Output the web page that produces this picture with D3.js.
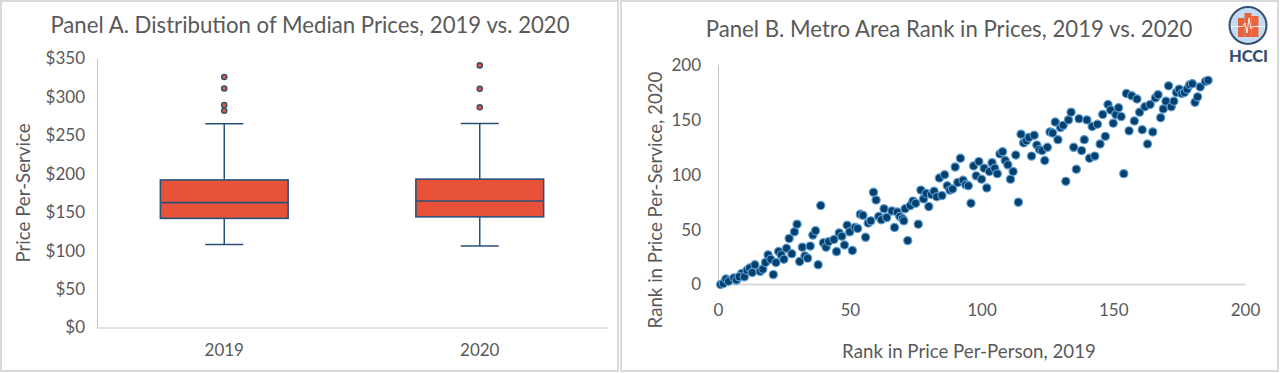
<!DOCTYPE html>
<html>
<head>
<meta charset="utf-8">
<script src="https://cdn.jsdelivr.net/npm/d3@7"></script>
<style>
  html, body { margin: 0; padding: 0; background: #fff; }
  svg { display: block; }
  text { font-family: Lato, "Noto Sans", sans-serif; fill: #595959; }
</style>
</head>
<body>
<div id="chart"></div>
<script>
const width = 1280;
const height = 373;

// Panel A
const years = ['2019', '2020'];
const whiskerLow = [108, 106];
const quartile1 = [142, 144];
const medians = [162.5, 164.5];
const quartile3 = [192, 193];
const whiskerHigh = [265, 265.5];
const outliers = [[326, 311, 289.5, 282], [341, 310.5, 286.5]];
const priceTicks = [0, 50, 100, 150, 200, 250, 300, 350];

// Panel B
const rank2019 = [1, 2, 3, 4, 6, 7, 9, 8, 10, 11, 12, 13, 14, 16, 17, 18, 19, 20, 21, 22, 23, 24, 25, 26, 27, 28, 29, 30, 31, 32, 33, 34, 35, 36, 37, 38, 39, 40, 41, 42, 44, 45, 46,
  47, 48, 49, 50, 51, 52, 53, 54, 55, 56, 57, 58, 59, 60, 61, 62, 63, 64, 66, 67, 68, 69, 70, 70.5, 71, 72, 73, 74, 75, 76, 77, 78, 79, 80, 81, 82, 83, 84, 85, 86, 87, 88, 89, 90, 91, 92,
  93, 94, 95, 96, 97, 98, 99, 100, 101, 102, 103, 104, 105, 106, 107, 108, 109, 110, 111, 112, 113, 114, 115, 116, 117, 118, 119, 120, 121, 122, 123, 124, 125, 126, 127, 128, 129, 130, 131, 132, 133, 134, 135, 136, 137,
  138, 139, 140, 141, 142, 143, 144, 145, 146, 147, 148, 149, 150, 151, 152, 153, 154, 155, 156, 157, 158, 159, 160, 161, 162, 163, 164, 165, 166, 167, 168, 169, 170, 171, 172, 173, 174, 175, 176, 177, 178, 179, 180, 181, 182, 183, 185, 186];
const rank2020 = [0, 1, 5, 3, 6, 4, 10, 7, 7, 13, 15, 11, 18, 12, 14, 20, 27, 23, 9, 20, 30, 27, 23, 33, 42, 28, 48, 55, 21, 34, 26, 24, 35, 45, 49, 18, 72, 38, 34, 39, 41, 30, 47,
  44, 36, 54, 48, 31, 52, 51, 64, 63, 43, 56, 58, 84, 77, 62, 59, 69, 61, 67, 52, 66, 62, 60, 58, 69, 40, 72, 76, 74, 55, 86, 78, 83, 71, 82, 85, 80, 97, 81, 100, 90, 86, 87, 107, 93, 115,
  95, 91, 90, 74, 108, 99, 112, 96, 106, 88, 103, 111, 106, 101, 119, 121, 113, 109, 96, 103, 118, 75, 137, 129, 131, 134, 117, 136, 127, 123, 122, 113, 125, 139, 138, 148, 132, 143, 145, 94, 150, 157, 125, 105, 151,
  122, 132, 150, 115, 144, 117, 146, 128, 155, 135, 164, 159, 147, 155, 161, 153, 101, 174, 140, 172, 149, 169, 157, 141, 162, 128, 164, 139, 170, 173, 152, 160, 167, 181, 162, 167, 175, 178, 174, 175, 178, 182, 183, 166, 171, 180, 185, 186];
const rankTicks = [0, 50, 100, 150, 200];

const svg = d3.select('#chart').append('svg')
  .attr('width', width)
  .attr('height', height);

// panel frames
svg.append('rect').attr('x', 1).attr('y', 1).attr('width', 617).attr('height', 370)
  .attr('fill', '#fff').attr('stroke', '#d9d9d9').attr('stroke-width', 2);
svg.append('rect').attr('x', 621).attr('y', 1).attr('width', 657).attr('height', 370)
  .attr('fill', '#fff').attr('stroke', '#d9d9d9').attr('stroke-width', 2);

function styleAxis(g, size) {
  g.selectAll('.tick line').remove();
  g.selectAll('.tick text').style('font-size', size + 'px').attr('fill', '#595959');
  g.select('.domain').attr('stroke', '#c4c4c4');
}

function drawPanelA() {
  const y = d3.scaleLinear().domain([0, 350]).range([327.5, 58.5]);
  const x = d3.scaleBand().domain(years).range([96.5, 607.5]).paddingInner(0.5).paddingOuter(0.25);

  const xAxis = svg.append('g').attr('transform', 'translate(0,327.5)')
    .call(d3.axisBottom(x).tickSize(0).tickPadding(16));
  styleAxis(xAxis, 17);

  const yAxis = svg.append('g').attr('transform', 'translate(97,0)')
    .call(d3.axisLeft(y).tickValues(priceTicks).tickFormat((d) => '$' + d).tickSize(0).tickPadding(12));
  styleAxis(yAxis, 17);

  const line = '#2a5279';
  years.forEach((year, i) => {
    const cx = x(year) + x.bandwidth() / 2;
    const box = svg.append('g');
    box.append('line').attr('x1', cx).attr('x2', cx)
      .attr('y1', y(whiskerLow[i])).attr('y2', y(whiskerHigh[i]))
      .attr('stroke', line).attr('stroke-width', 1.5);
    [whiskerLow[i], whiskerHigh[i]].forEach((v) => {
      box.append('line').attr('x1', cx - 19).attr('x2', cx + 19)
        .attr('y1', y(v)).attr('y2', y(v))
        .attr('stroke', line).attr('stroke-width', 1.5);
    });
    box.append('rect')
      .attr('x', x(year)).attr('width', x.bandwidth())
      .attr('y', y(quartile3[i])).attr('height', y(quartile1[i]) - y(quartile3[i]))
      .attr('fill', '#e85238').attr('stroke', line).attr('stroke-width', 1.6);
    box.append('line').attr('x1', x(year)).attr('x2', x(year) + x.bandwidth())
      .attr('y1', y(medians[i])).attr('y2', y(medians[i]))
      .attr('stroke', line).attr('stroke-width', 1.6);
    box.selectAll('circle').data(outliers[i]).join('circle')
      .attr('cx', cx).attr('cy', (d) => y(d)).attr('r', 2.6)
      .attr('fill', '#e85238').attr('stroke', line).attr('stroke-width', 1.4);
  });

  svg.append('text').attr('x', 310).attr('y', 33).attr('text-anchor', 'middle')
    .style('font-size', '22.2px')
    .text('Panel A. Distribution of Median Prices, 2019 vs. 2020');
  svg.append('text').attr('transform', 'translate(30,193) rotate(-90)')
    .attr('text-anchor', 'middle').style('font-size', '18.7px')
    .text('Price Per-Service');
}

function drawPanelB() {
  const x = d3.scaleLinear().domain([0, 200]).range([718, 1245]);
  const y = d3.scaleLinear().domain([0, 200]).range([284.5, 65]);

  const xAxis = svg.append('g').attr('transform', 'translate(0,284)')
    .call(d3.axisBottom(x).tickValues(rankTicks).tickSize(0).tickPadding(20));
  styleAxis(xAxis, 17);
  xAxis.select('.domain').attr('stroke', '#d9d9d9').attr('stroke-width', 2);

  const yAxis = svg.append('g').attr('transform', 'translate(718,0)')
    .call(d3.axisLeft(y).tickValues(rankTicks).tickSize(0).tickPadding(17));
  styleAxis(yAxis, 17);

  svg.append('g').selectAll('circle')
    .data(rank2019.map((d, i) => [d, rank2020[i]]))
    .join('circle')
    .attr('cx', (d) => x(d[0]))
    .attr('cy', (d) => y(d[1]))
    .attr('r', 4.1)
    .attr('fill', '#03406c')
    .attr('stroke', '#5c9bd3')
    .attr('stroke-width', 1.2);

  svg.append('text').attr('x', 949).attr('y', 37).attr('text-anchor', 'middle')
    .style('font-size', '22.2px')
    .text('Panel B. Metro Area Rank in Prices, 2019 vs. 2020');
  svg.append('text').attr('x', 969).attr('y', 358).attr('text-anchor', 'middle')
    .style('font-size', '18.7px')
    .text('Rank in Price Per-Person, 2019');
  svg.append('text').attr('transform', 'translate(662,200) rotate(-90)')
    .attr('text-anchor', 'middle').style('font-size', '18.7px')
    .text('Rank in Price Per-Service, 2020');
}

function drawLogo() {
  const logo = svg.append('g');
  logo.append('circle').attr('cx', 1248).attr('cy', 25.5).attr('r', 18.5)
    .attr('fill', '#c6dbf1').attr('stroke', '#34506f').attr('stroke-width', 2);
  [[1238, 18, 6.5, 19], [1244.5, 13, 7, 24], [1251.5, 16, 7, 21]].forEach((b) => {
    logo.append('rect').attr('x', b[0]).attr('y', b[1]).attr('width', b[2]).attr('height', b[3])
      .attr('fill', '#e8643c');
  });
  logo.append('path')
    .attr('d', 'M1231 26.5H1243L1245 23L1247 33L1249 18L1251 29L1252.5 26.5H1265')
    .attr('fill', 'none').attr('stroke', '#fff').attr('stroke-width', 0.9);
  logo.append('text').attr('x', 1248.5).attr('y', 62).attr('text-anchor', 'middle')
    .style('font-size', '16.5px').style('font-weight', 900)
    .style('fill', '#34506f').text('HCCI');
}

drawPanelA();
drawPanelB();
drawLogo();
</script>
</body>
</html>
